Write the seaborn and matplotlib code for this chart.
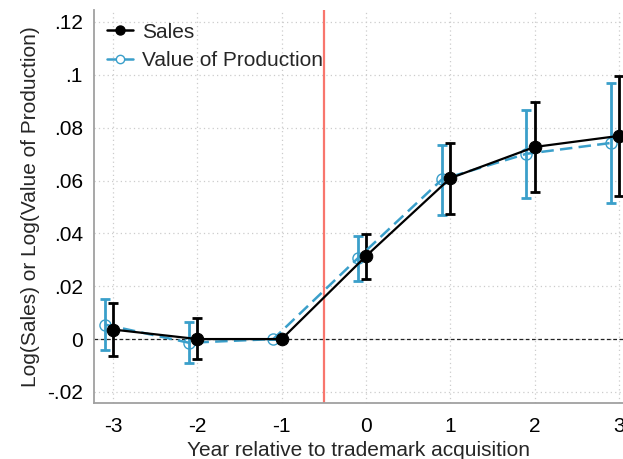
import numpy as np
import pandas as pd
import matplotlib
matplotlib.use("Agg")
import matplotlib.pyplot as plt
import seaborn as sns
from matplotlib.lines import Line2D

# Event-study estimates by year relative to trademark acquisition
years = [-3, -2, -1, 0, 1, 2, 3]

sales = [0.0036, 0.0000, 0.0000, 0.0314, 0.0609, 0.0727, 0.0769]
sales_lo = [-0.0065, -0.0077, 0.0000, 0.0229, 0.0475, 0.0557, 0.0543]
sales_hi = [0.0138, 0.0080, 0.0000, 0.0399, 0.0742, 0.0896, 0.0995]

vop = [0.0055, -0.0014, 0.0000, 0.0305, 0.0604, 0.0701, 0.0742]
vop_lo = [-0.0042, -0.0089, 0.0000, 0.0219, 0.0469, 0.0533, 0.0516]
vop_hi = [0.0151, 0.0065, 0.0000, 0.0389, 0.0736, 0.0868, 0.0969]

ytick_vals = [-0.02, 0, 0.02, 0.04, 0.06, 0.08, 0.1, 0.12]
ytick_labels = ["-.02", "0", ".02", ".04", ".06", ".08", ".1", ".12"]

BLACK = "#000000"
BLUE = "#3a9fca"
RED = "#f8766d"
SPINE = "#a0a0a0"
FS = 15

sns.set_style("white")
plt.rcParams["font.family"] = ["Liberation Sans", "DejaVu Sans"]

fig = plt.figure(figsize=(6.23, 4.59), dpi=100)
ax = fig.add_axes([0.151, 0.122, 0.849, 0.856])

x_sales = np.array(years, dtype=float)
x_vop = x_sales - 0.1

df = pd.DataFrame({
    "x": np.concatenate([x_sales, x_vop]),
    "y": sales + vop,
    "series": ["Sales"] * len(years) + ["Value of Production"] * len(years),
})

# grid
for xv in years:
    ax.axvline(xv, color="#cccccc", lw=0.9, ls=(0, (1, 2.5)), zorder=0)
for yv in ytick_vals:
    ax.axhline(yv, color="#cccccc", lw=0.9, ls=(0, (1, 2.5)), zorder=0)

ax.axhline(0, color="#222222", lw=0.9, ls=(0, (3, 2)), zorder=1)
ax.axvline(-0.5, color=RED, lw=1.6, zorder=1)

# confidence intervals
s = np.array(sales); v = np.array(vop)
ax.errorbar(x_vop, v, yerr=[v - np.array(vop_lo), np.array(vop_hi) - v],
            fmt="none", ecolor=BLUE, elinewidth=2.0, capsize=3.5,
            capthick=2.0, zorder=2)
ax.errorbar(x_sales, s, yerr=[s - np.array(sales_lo), np.array(sales_hi) - s],
            fmt="none", ecolor=BLACK, elinewidth=2.0, capsize=3.5,
            capthick=2.0, zorder=3)

sns.lineplot(data=df[df.series == "Value of Production"], x="x", y="y",
             color=BLUE, lw=1.8, ax=ax, linestyle=(0, (5, 2.5)),
             marker="o", markersize=8, markerfacecolor="none",
             markeredgecolor=BLUE, markeredgewidth=1.0, zorder=4,
             legend=False)
sns.lineplot(data=df[df.series == "Sales"], x="x", y="y",
             color=BLACK, lw=1.6, ax=ax, marker="o", markersize=9,
             markerfacecolor=BLACK, markeredgecolor=BLACK, zorder=5,
             legend=False)

ax.set_xlim(-3.225, 3.047)
ax.set_ylim(-0.0242, 0.1245)
ax.set_xticks(years)
ax.set_xticklabels([str(y) for y in years])
ax.set_yticks(ytick_vals)
ax.set_yticklabels(ytick_labels)

for side in ["top", "right"]:
    ax.spines[side].set_visible(False)
for side in ["left", "bottom"]:
    ax.spines[side].set_color(SPINE)
    ax.spines[side].set_linewidth(1.3)
ax.tick_params(axis="both", which="major", direction="out", length=5,
               width=1.2, color=SPINE, labelsize=FS, labelcolor="black",
               pad=3)
ax.tick_params(axis="x", pad=5)

ax.set_xlabel("Year relative to trademark acquisition", fontsize=FS,
              labelpad=4)
ax.set_ylabel("Log(Sales) or Log(Value of Production)", fontsize=FS,
              labelpad=5)

handles = [
    Line2D([0], [0], color=BLACK, lw=1.8, marker="o", markersize=6.5),
    Line2D([0], [0], color=BLUE, lw=1.8, marker="o", markersize=6,
           markerfacecolor="white", markeredgecolor=BLUE),
]
ax.legend(handles, ["Sales", "Value of Production"], loc="upper left",
          frameon=False, fontsize=FS, handlelength=1.25, handletextpad=0.43,
          borderaxespad=0.2, labelspacing=0.45, bbox_to_anchor=(0.0, 1.0))

fig.savefig("out.png", dpi=100)
